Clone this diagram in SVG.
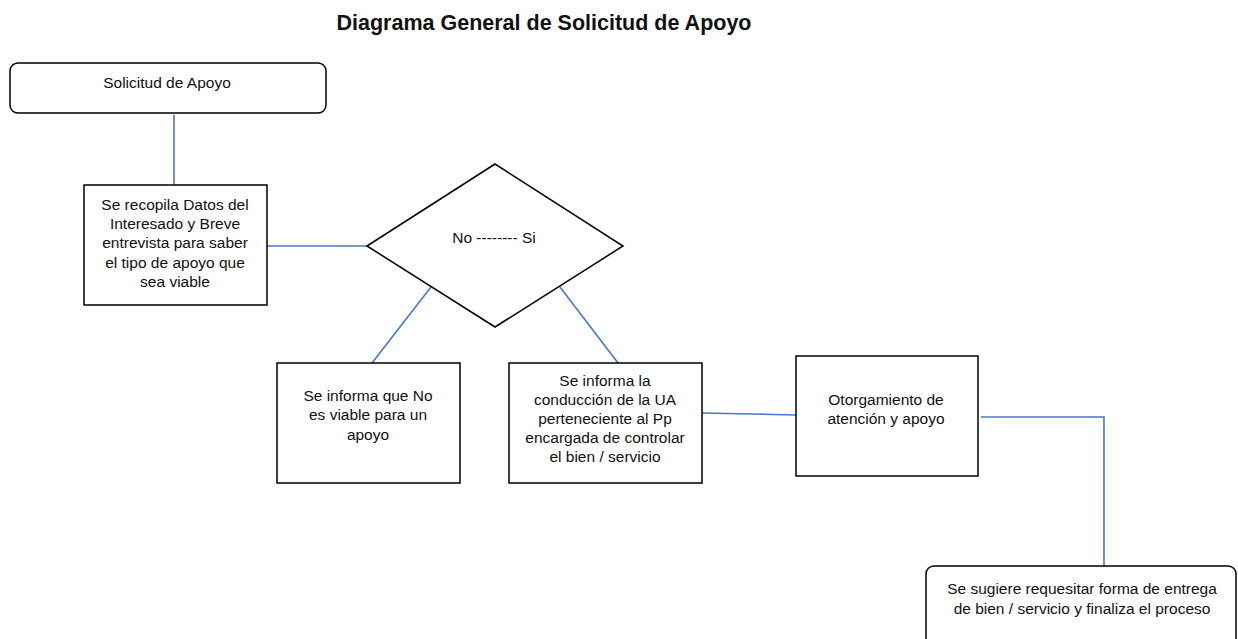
<svg xmlns="http://www.w3.org/2000/svg" width="1238" height="639" viewBox="0 0 1238 639">
<style>
.box{fill:#fff;stroke:#000;stroke-width:1.5}
.t{font-family:"Liberation Sans",Arial,sans-serif;font-size:15.5px;fill:#111;text-anchor:middle}
.title{font-family:"Liberation Sans",Arial,sans-serif;font-size:21.5px;font-weight:bold;fill:#111;text-anchor:middle}
.c{fill:none;stroke:#4a76c9;stroke-width:1.6}
</style>
<rect width="1238" height="639" fill="#fff"/>
<text class="title" x="544" y="30">Diagrama General de Solicitud de Apoyo</text>
<g id="connectors">
<line class="c" x1="174" y1="115" x2="174" y2="185"/>
<line class="c" x1="267" y1="246" x2="367" y2="246"/>
<line class="c" x1="431" y1="287" x2="372" y2="363"/>
<line class="c" x1="560" y1="287" x2="618" y2="363"/>
<line class="c" x1="702" y1="413" x2="796" y2="415"/>
<polyline class="c" points="981,417 1104,417 1104,566"/>
</g>
<g id="n1">
<rect class="box" x="10" y="63" width="316" height="50" rx="8"/>
<text class="t" x="167" y="88">Solicitud de Apoyo</text>
</g>
<g id="n2">
<rect class="box" x="84" y="185" width="183" height="120"/>
<text class="t" x="175" y="210">Se recopila Datos del</text>
<text class="t" x="175" y="229">Interesado y Breve</text>
<text class="t" x="175" y="248">entrevista para saber</text>
<text class="t" x="175" y="268">el tipo de apoyo que</text>
<text class="t" x="175" y="287">sea viable</text>
</g>
<g id="n3">
<polygon class="box" points="367,246 495,164 623,246 495,327"/>
<text class="t" x="494" y="243">No  -------- Si</text>
</g>
<g id="n4">
<rect class="box" x="277" y="363" width="183" height="120"/>
<text class="t" x="368" y="401">Se informa que No</text>
<text class="t" x="368" y="420">es viable para un</text>
<text class="t" x="368" y="440">apoyo</text>
</g>
<g id="n5">
<rect class="box" x="509" y="363" width="193" height="120"/>
<text class="t" x="605" y="386">Se informa la</text>
<text class="t" x="605" y="405">conducción de la UA</text>
<text class="t" x="605" y="424">perteneciente al Pp</text>
<text class="t" x="605" y="443">encargada de controlar</text>
<text class="t" x="605" y="462">el bien / servicio</text>
</g>
<g id="n6">
<rect class="box" x="796" y="356" width="182" height="120"/>
<text class="t" x="886" y="405">Otorgamiento de</text>
<text class="t" x="886" y="424">atención y apoyo</text>
</g>
<g id="n7">
<rect class="box" x="926" y="566" width="310" height="90" rx="8"/>
<text class="t" x="1082" y="594">Se sugiere requesitar forma de entrega</text>
<text class="t" x="1082" y="614">de bien / servicio y finaliza el proceso</text>
</g>
</svg>
